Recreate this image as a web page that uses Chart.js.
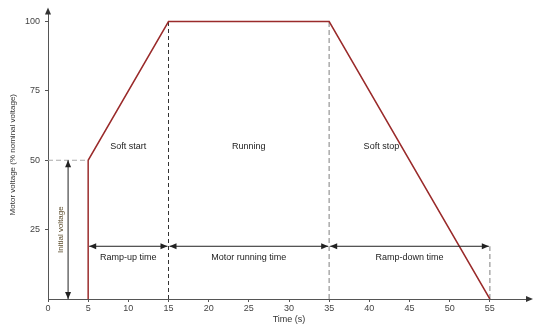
<!DOCTYPE html>
<html>
<head>
<meta charset="utf-8">
<script src="https://cdn.jsdelivr.net/npm/chart.js@4/dist/chart.umd.min.js"></script>
<style>
  body { margin: 0; background: #fff; }
  #wrap { width: 534px; height: 325px; }
</style>
</head>
<body>
<div id="wrap"><canvas id="motorChart"></canvas></div>
<script>
// motor voltage profile
const timePoints = [5, 5, 15, 35, 55];
const voltagePoints = [0, 50, 100, 100, 0];

// guide lines
const initialGuideX = [0, 5];
const initialGuideY = [50, 50];
const startEndX = [15, 15];
const startEndY = [0, 100];
const stopStartX = [35, 35];
const stopStartY = [0, 100];
const stopEndX = [55, 55];
const stopEndY = [0, 19];

// time span arrows
const spanStarts = [5, 15, 35];
const spanEnds = [15, 35, 55];
const spanLevel = 19;
const spanLabels = ['Ramp-up time', 'Motor running time', 'Ramp-down time'];
const spanLabelY = 15;

// phase labels
const phaseLabels = ['Soft start', 'Running', 'Soft stop'];
const phaseX = [10, 25, 41.5];
const phaseY = 55;

// initial voltage arrow
const initArrowX = 2.5;
const initArrowFrom = 0;
const initArrowTo = 50;
const initLabel = 'Initial voltage';
const initLabelX = 1.6;
const initLabelY = 25;

const xTicks = [0, 5, 10, 15, 20, 25, 30, 35, 40, 45, 50, 55];
const yTicks = [25, 50, 75, 100];

const FONT = '"Liberation Sans", Arial, sans-serif';

function pts(xs, ys) {
  return xs.map(function(x, i) { return {x: x, y: ys[i]} })
}

function arrowHead(ctx, x, y, dir) {
  // dir: 'l','r','u','d'
  ctx.beginPath()
  if (dir == 'r') { ctx.moveTo(x, y); ctx.lineTo(x - 7, y - 3); ctx.lineTo(x - 7, y + 3) }
  if (dir == 'l') { ctx.moveTo(x, y); ctx.lineTo(x + 7, y - 3); ctx.lineTo(x + 7, y + 3) }
  if (dir == 'u') { ctx.moveTo(x, y); ctx.lineTo(x - 3, y + 7); ctx.lineTo(x + 3, y + 7) }
  if (dir == 'd') { ctx.moveTo(x, y); ctx.lineTo(x - 3, y - 7); ctx.lineTo(x + 3, y - 7) }
  ctx.closePath()
  ctx.fill()
}

const extras = {
  id: 'extras',
  afterDatasetsDraw: function(chart) {
    const ctx = chart.ctx
    const xs = chart.scales.x
    const ys = chart.scales.y
    ctx.save()
    ctx.strokeStyle = '#222'
    ctx.fillStyle = '#222'
    ctx.lineWidth = 1

    // span arrows
    const yy = ys.getPixelForValue(spanLevel)
    spanStarts.forEach(function(s, i) {
      const a = xs.getPixelForValue(s) + 1
      const b = xs.getPixelForValue(spanEnds[i]) - 1
      ctx.beginPath()
      ctx.moveTo(a, yy)
      ctx.lineTo(b, yy)
      ctx.stroke()
      arrowHead(ctx, a, yy, 'l')
      arrowHead(ctx, b, yy, 'r')
    })

    // initial voltage arrow
    const ax = xs.getPixelForValue(initArrowX)
    const a0 = ys.getPixelForValue(initArrowFrom)
    const a1 = ys.getPixelForValue(initArrowTo)
    ctx.beginPath()
    ctx.moveTo(ax, a0)
    ctx.lineTo(ax, a1)
    ctx.stroke()
    arrowHead(ctx, ax, a0, 'd')
    arrowHead(ctx, ax, a1, 'u')

    // axis arrows
    ctx.fillStyle = '#333'
    arrowHead(ctx, xs.right + 3, ys.bottom, 'r')
    arrowHead(ctx, xs.left, ys.top - 3, 'u')

    // texts
    ctx.fillStyle = '#222'
    ctx.font = '9px ' + FONT
    ctx.textAlign = 'center'
    ctx.textBaseline = 'middle'
    phaseLabels.forEach(function(t, i) {
      ctx.fillText(t, xs.getPixelForValue(phaseX[i]), ys.getPixelForValue(phaseY))
    })
    spanLabels.forEach(function(t, i) {
      const mid = (spanStarts[i] + spanEnds[i]) / 2
      ctx.fillText(t, xs.getPixelForValue(mid), ys.getPixelForValue(spanLabelY))
    })
    ctx.font = '8px ' + FONT
    ctx.fillStyle = '#5a4a2a'
    ctx.translate(xs.getPixelForValue(initLabelX), ys.getPixelForValue(initLabelY))
    ctx.rotate(-Math.PI / 2)
    ctx.fillText(initLabel, 0, 0)
    ctx.restore()
  }
}

const ctx = document.getElementById('motorChart').getContext('2d')

const chart = new Chart(ctx, {
  type: 'scatter',
  data: {
    datasets: [
      {
        data: pts(timePoints, voltagePoints),
        showLine: true,
        borderColor: '#9a2b2b',
        borderWidth: 1.5,
        pointRadius: 0
      },
      {
        data: pts(initialGuideX, initialGuideY),
        showLine: true,
        borderColor: '#aaaaaa',
        borderWidth: 1,
        borderDash: [5, 3],
        pointRadius: 0
      },
      {
        data: pts(startEndX, startEndY),
        showLine: true,
        borderColor: '#333333',
        borderWidth: 1,
        borderDash: [4, 3],
        pointRadius: 0
      },
      {
        data: pts(stopStartX, stopStartY),
        showLine: true,
        borderColor: '#aaaaaa',
        borderWidth: 1.5,
        borderDash: [5, 3],
        pointRadius: 0
      },
      {
        data: pts(stopEndX, stopEndY),
        showLine: true,
        borderColor: '#aaaaaa',
        borderWidth: 1.5,
        borderDash: [5, 3],
        pointRadius: 0
      }
    ]
  },
  options: {
    responsive: true,
    maintainAspectRatio: false,
    animation: false,
    layout: { padding: { top: 10, right: 4, left: 0, bottom: 0 } },
    plugins: {
      legend: { display: false },
      tooltip: { enabled: false }
    },
    scales: {
      x: {
        type: 'linear',
        min: 0,
        max: 60,
        afterBuildTicks: function(axis) {
          axis.ticks = xTicks.map(function(v) { return {value: v} })
        },
        afterFit: function(axis) { axis.height = 26 },
        grid: { drawOnChartArea: false, tickLength: 3, color: '#555' },
        border: { color: '#555', width: 1 },
        ticks: {
          color: '#444',
          padding: 1,
          maxRotation: 0,
          font: { family: FONT, size: 9 }
        },
        title: {
          display: true,
          text: 'Time (s)',
          color: '#333',
          padding: 0,
          font: { family: FONT, size: 9 }
        }
      },
      y: {
        min: 0,
        max: 104,
        afterBuildTicks: function(axis) {
          axis.ticks = yTicks.map(function(v) { return {value: v} })
        },
        afterFit: function(axis) { axis.width = 48 },
        grid: { drawOnChartArea: false, tickLength: 3, color: '#555' },
        border: { color: '#555', width: 1 },
        ticks: {
          color: '#444',
          padding: 5,
          font: { family: FONT, size: 9 }
        },
        title: {
          display: true,
          text: 'Motor voltage (% nominal voltage)',
          color: '#333',
          padding: { top: 8, bottom: 0 },
          font: { family: FONT, size: 8 }
        }
      }
    }
  },
  plugins: [extras]
})
</script>
</body>
</html>
